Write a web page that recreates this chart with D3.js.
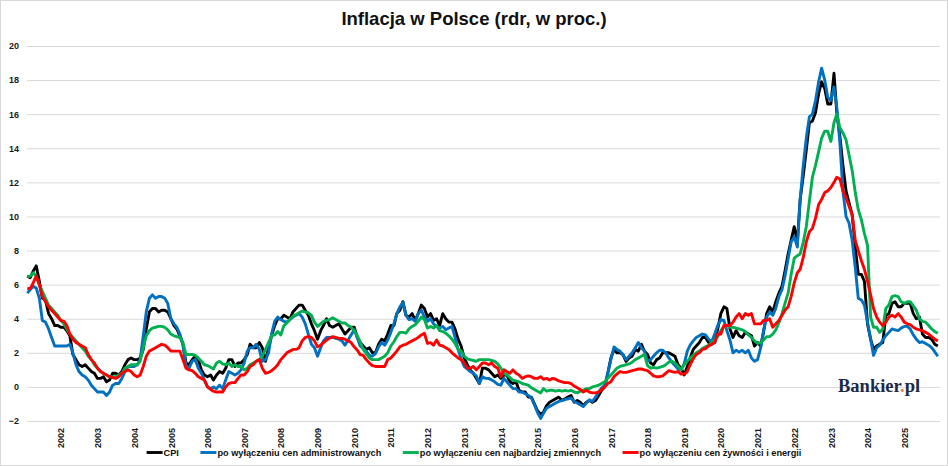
<!DOCTYPE html>
<html>
<head>
<meta charset="utf-8">
<script src="https://cdn.jsdelivr.net/npm/d3@7"></script>
<style>
  body { margin: 0; background: #fff; }
  svg { display: block; }
</style>
</head>
<body>
<svg width="948" height="466"></svg>
<script>
// Inflacja w Polsce, dane miesięczne od lutego 2001 do grudnia 2025 (rdr, %)

var yearLabels = [2002, 2003, 2004, 2005, 2006, 2007, 2008, 2009, 2010, 2011, 2012, 2013,
                  2014, 2015, 2016, 2017, 2018, 2019, 2020, 2021, 2022, 2023, 2024, 2025];
var yTicks = [-2, 0, 2, 4, 6, 8, 10, 12, 14, 16, 18, 20];
var seriesNames = ["CPI", "po wyłączeniu cen administrowanych",
                   "po wyłączeniu cen najbardziej zmiennych", "po wyłączeniu cen żywności i energii"];

var cpi = [
  6.5, 6.4, 6.8, 7.1, 6.2, 5.2, 5.1, 4.3, 4.0, 3.6, 3.6,           // 2001 (lut-gru)
  3.5, 3.5, 3.3, 3.0, 1.9, 1.6, 1.3, 1.2, 1.3, 1.1, 0.9, 0.8,      // 2002
  0.5, 0.5, 0.6, 0.3, 0.4, 0.8, 0.8, 0.7, 0.9, 1.3, 1.6, 1.7,      // 2003
  1.6, 1.6, 1.7, 2.2, 3.4, 4.4, 4.6, 4.6, 4.4, 4.5, 4.5, 4.4,      // 2004
  4.0, 3.6, 3.4, 3.0, 2.5, 1.4, 1.3, 1.6, 1.8, 1.6, 1.0, 0.7,      // 2005
  0.6, 0.7, 0.4, 0.7, 0.9, 0.8, 1.1, 1.6, 1.6, 1.2, 1.4, 1.4,      // 2006
  1.6, 1.9, 2.5, 2.3, 2.3, 2.6, 2.3, 1.5, 2.3, 3.0, 3.6, 4.0,      // 2007
  4.0, 4.2, 4.1, 4.0, 4.4, 4.6, 4.8, 4.8, 4.5, 4.2, 3.7, 3.3,      // 2008
  2.8, 3.3, 3.6, 4.0, 3.6, 3.5, 3.6, 3.7, 3.4, 3.1, 3.3, 3.5,      // 2009
  3.5, 2.9, 2.6, 2.4, 2.2, 2.3, 2.0, 2.0, 2.5, 2.8, 2.7, 3.1,      // 2010
  3.6, 3.6, 4.3, 4.5, 5.0, 4.2, 4.1, 4.3, 3.9, 4.3, 4.8, 4.6,      // 2011
  4.1, 4.3, 3.9, 4.0, 3.6, 4.3, 4.0, 3.8, 3.8, 3.4, 2.8, 2.4,      // 2012
  1.7, 1.3, 1.0, 0.8, 0.5, 0.2, 1.1, 1.1, 1.0, 0.8, 0.6, 0.7,      // 2013
  0.5, 0.7, 0.7, 0.3, 0.2, 0.3, -0.2, -0.3, -0.3, -0.6, -0.6, -1.0, // 2014
  -1.4, -1.6, -1.5, -1.1, -0.9, -0.8, -0.7, -0.6, -0.8, -0.7, -0.6, -0.5, // 2015
  -0.9, -0.8, -0.9, -1.1, -0.9, -0.8, -0.9, -0.8, -0.5, -0.2, 0.0, 0.8,   // 2016
  1.7, 2.2, 2.0, 2.0, 1.9, 1.5, 1.7, 1.8, 2.2, 2.1, 2.5, 2.1,      // 2017
  1.9, 1.4, 1.3, 1.6, 1.7, 2.0, 2.0, 2.0, 1.9, 1.8, 1.3, 1.1,      // 2018
  0.7, 1.2, 1.7, 2.2, 2.4, 2.6, 2.9, 2.9, 2.6, 2.5, 2.6, 3.4,      // 2019
  4.3, 4.7, 4.6, 3.4, 2.9, 3.3, 3.0, 2.9, 3.2, 3.1, 3.0, 2.4,      // 2020
  2.6, 2.4, 3.2, 4.3, 4.7, 4.4, 5.0, 5.5, 5.9, 6.8, 7.8, 8.6,      // 2021
  9.4, 8.5, 11.0, 12.4, 13.9, 15.5, 15.6, 16.1, 17.2, 17.9, 17.5, 16.6, // 2022
  16.6, 18.4, 16.1, 14.7, 13.0, 11.5, 10.8, 10.1, 8.2, 6.6, 6.6, 6.2,   // 2023
  3.7, 2.8, 2.2, 2.4, 2.5, 2.6, 4.2, 4.3, 4.9, 5.0, 4.7, 4.7,      // 2024
  4.9, 4.9, 4.9, 4.3, 4.0, 4.1, 3.1, 2.9, 2.9, 2.8, 2.5, 2.4       // 2025
];

var exAdmin = [
  5.5, 5.7, 5.9, 5.8, 5.2, 3.9, 3.8, 3.4, 2.9, 2.4, 2.4,           // 2001
  2.4, 2.4, 2.4, 2.5, 2.0, 1.3, 0.9, 0.7, 0.6, 0.4, 0.1, -0.1,     // 2002
  -0.3, -0.3, -0.3, -0.5, -0.3, 0.1, 0.2, 0.2, 0.5, 0.9, 1.2, 1.2, // 2003
  1.2, 1.3, 1.6, 3.0, 4.4, 5.2, 5.4, 5.2, 5.3, 5.3, 5.2, 4.9,      // 2004
  4.0, 3.7, 3.5, 3.1, 2.5, 1.2, 1.1, 1.5, 1.6, 1.1, 0.8, 0.4,      // 2005
  0.0, -0.1, 0.0, -0.1, 0.1, -0.1, 0.4, 0.9, 0.8, 0.7, 0.8, 1.0,   // 2006
  1.4, 2.1, 2.3, 2.3, 2.5, 2.2, 1.5, 1.6, 2.0, 3.1, 3.85, 4.1,     // 2007
  3.95, 3.85, 3.8, 3.95, 4.1, 4.2, 4.3, 4.1, 3.7, 3.1, 2.5, 2.3,   // 2008
  1.8, 2.3, 2.7, 2.9, 2.9, 2.9, 2.85, 2.8, 2.7, 2.45, 2.75, 3.05,  // 2009
  3.35, 2.9, 2.4, 2.25, 2.1, 1.85, 1.8, 1.95, 2.35, 2.6, 2.45, 2.75, // 2010
  3.2, 3.7, 4.3, 4.7, 4.95, 4.2, 3.95, 4.0, 3.85, 4.3, 4.5, 4.1,   // 2011
  3.85, 4.0, 3.7, 3.55, 3.45, 3.55, 3.35, 3.45, 3.55, 2.9, 2.2, 1.65, // 2012
  1.2, 1.05, 0.9, 0.8, 0.65, 0.2, 0.6, 0.5, 0.5, 0.4, 0.3, 0.15,   // 2013
  0.1, 0.5, 0.3, 0.1, -0.1, -0.1, -0.3, -0.3, -0.4, -0.5, -0.65, -1.05, // 2014
  -1.5, -1.85, -1.55, -1.25, -1.15, -1.05, -0.95, -0.85, -0.8, -0.75, -0.7, -0.65, // 2015
  -0.85, -0.95, -1.05, -1.15, -0.95, -0.75, -0.85, -0.6, -0.3, -0.05, 0.1, 0.8, // 2016
  1.6, 2.35, 2.2, 2.1, 1.9, 1.6, 1.8, 2.0, 2.3, 2.6, 2.3, 2.1,     // 2017
  1.5, 1.6, 1.8, 2.0, 2.15, 2.15, 2.0, 1.7, 1.45, 1.25, 1.05, 1.0, // 2018
  1.35, 2.1, 2.45, 2.7, 2.9, 3.0, 3.1, 3.05, 2.8, 2.65, 3.1, 3.6,  // 2019
  3.95, 3.9, 3.3, 2.75, 2.0, 2.15, 2.05, 2.15, 2.0, 2.15, 1.7, 1.5, // 2020
  1.6, 2.3, 3.3, 4.1, 4.4, 4.2, 4.6, 5.3, 5.7, 6.5, 7.5, 8.5,      // 2021
  8.8, 8.2, 11.0, 13.0, 14.6, 15.85, 16.0, 16.8, 17.9, 18.7, 18.0, 17.0, // 2022
  16.8, 17.6, 16.4, 14.3, 11.5, 10.0, 9.6, 8.6, 7.0, 5.2, 5.1, 4.8, // 2023
  3.8, 2.8, 1.85, 2.3, 2.45, 2.75, 3.0, 3.2, 3.4, 3.35, 3.3, 3.45, // 2024
  3.55, 3.55, 3.4, 3.05, 2.8, 2.6, 2.65, 2.55, 2.45, 2.3, 2.05, 1.8 // 2025
];

var exVolatile = [
  6.45, 6.5, 6.7, 6.5, 6.0, 5.6, 5.2, 4.8, 4.6, 4.4, 4.2,          // 2001
  3.9, 3.7, 3.4, 3.1, 2.9, 2.7, 2.5, 2.3, 2.1, 1.8, 1.6, 1.3,      // 2002
  1.1, 0.9, 0.8, 0.7, 0.6, 0.6, 0.6, 0.7, 0.8, 1.1, 1.2, 1.3,      // 2003
  1.3, 1.3, 1.5, 2.3, 3.0, 3.3, 3.45, 3.5, 3.55, 3.55, 3.5, 3.35,  // 2004
  3.1, 3.0, 2.95, 2.9, 2.6, 1.9, 1.9, 1.9, 1.85, 1.7, 1.5, 1.3,    // 2005
  1.25, 1.15, 1.05, 1.4, 1.5, 1.35, 1.3, 1.4, 1.2, 1.3, 1.2, 1.2,  // 2006
  1.0, 1.1, 1.3, 1.4, 1.5, 1.6, 1.8, 2.2, 2.6, 3.0, 3.05, 3.25,    // 2007
  3.05, 3.6, 3.75, 3.95, 4.15, 4.25, 4.35, 4.45, 4.4, 4.35, 4.2, 3.8, // 2008
  3.55, 3.7, 3.85, 3.9, 3.95, 4.05, 3.95, 3.85, 3.75, 3.75, 3.6, 3.5, // 2009
  3.3, 3.0, 2.65, 2.2, 1.95, 1.7, 1.6, 1.6, 1.6, 1.7, 1.8, 2.0,    // 2010
  2.4, 2.65, 2.95, 3.2, 3.2, 3.15, 3.4, 3.55, 3.65, 3.85, 4.1, 3.95, // 2011
  3.45, 3.55, 3.45, 3.6, 3.3, 3.25, 3.15, 3.0, 2.8, 2.55, 2.2, 2.1, // 2012
  1.8, 1.65, 1.6, 1.55, 1.5, 1.6, 1.6, 1.6, 1.6, 1.55, 1.5, 1.35,  // 2013
  1.1, 0.8, 0.7, 0.55, 0.4, 0.35, 0.3, 0.2, 0.15, 0.1, -0.05, -0.15, // 2014
  -0.25, -0.35, -0.1, -0.25, -0.2, -0.2, -0.25, -0.2, -0.25, -0.2, -0.25, -0.2, // 2015
  -0.3, -0.35, -0.25, -0.2, -0.1, -0.1, 0.0, 0.05, 0.1, 0.2, 0.3, 0.5, // 2016
  0.7, 0.9, 1.1, 1.2, 1.25, 1.3, 1.35, 1.45, 1.6, 1.7, 1.8, 1.9,   // 2017
  1.25, 1.1, 1.15, 1.1, 1.15, 1.2, 1.3, 1.45, 1.5, 1.4, 1.2, 1.0,  // 2018
  1.3, 1.5, 1.7, 1.85, 2.0, 2.1, 2.25, 2.35, 2.45, 2.6, 2.75, 2.95, // 2019
  3.3, 3.55, 3.6, 3.5, 3.5, 3.45, 3.4, 3.35, 3.25, 3.05, 2.9, 2.7, // 2020
  2.55, 2.6, 2.75, 2.95, 2.95, 3.1, 3.35, 3.75, 4.3, 4.9, 5.5, 6.6, // 2021
  7.55, 7.7, 7.8, 8.5, 9.4, 10.9, 12.3, 13.0, 13.8, 14.6, 15.0, 15.0, // 2022
  14.4, 15.5, 16.0, 15.2, 14.9, 14.5, 13.6, 12.7, 11.4, 10.4, 9.8, 9.0, // 2023
  8.3, 4.1, 3.5, 3.5, 3.2, 3.4, 4.6, 4.8, 5.3, 5.35, 5.3, 5.0,     // 2024
  4.9, 5.0, 5.0, 4.75, 4.5, 4.0, 3.85, 3.8, 3.6, 3.4, 3.25, 3.15   // 2025
];

var exFoodEnergy = [
  5.8, 5.75, 6.1, 6.5, 6.0, 5.3, 5.0, 4.7, 4.5, 4.3, 4.1,          // 2001
  3.9, 3.85, 3.6, 3.1, 2.8, 2.6, 2.5, 2.4, 2.3, 1.9, 1.6, 1.4,     // 2002
  1.1, 0.9, 0.8, 0.7, 0.6, 0.55, 0.5, 0.6, 0.8, 0.9, 1.0, 0.9,     // 2003
  0.7, 0.6, 0.7, 1.2, 1.8, 2.1, 2.2, 2.3, 2.4, 2.5, 2.45, 2.3,     // 2004
  2.1, 2.1, 2.1, 2.1, 1.6, 1.1, 1.0, 0.95, 0.8, 0.6, 0.5, 0.4,     // 2005
  0.0, -0.15, -0.25, -0.3, -0.3, -0.3, 0.0, 0.2, 0.25, 0.25, 0.5, 0.7, // 2006
  0.7, 0.9, 1.2, 1.3, 1.5, 1.6, 1.1, 0.8, 0.85, 0.95, 1.1, 1.3,    // 2007
  1.6, 1.8, 2.0, 2.1, 2.2, 2.2, 2.3, 2.7, 2.9, 2.95, 2.9, 2.7,     // 2008
  2.35, 2.45, 2.6, 2.75, 2.85, 2.95, 2.9, 2.85, 2.85, 2.8, 2.7, 2.6, // 2009
  2.35, 2.15, 1.9, 1.85, 1.6, 1.4, 1.25, 1.2, 1.2, 1.2, 1.2, 1.6,  // 2010
  1.7, 1.9, 2.1, 2.35, 2.45, 2.5, 2.6, 2.7, 2.8, 2.9, 3.05, 3.15,  // 2011
  2.55, 2.6, 2.45, 2.75, 2.45, 2.4, 2.3, 2.2, 2.0, 1.85, 1.7, 1.6, // 2012
  1.4, 1.1, 1.1, 1.2, 1.0, 1.2, 1.4, 1.4, 1.3, 1.4, 1.2, 1.1,      // 2013
  0.6, 1.0, 0.9, 0.8, 1.0, 0.8, 0.7, 0.5, 0.6, 0.65, 0.6, 0.5,     // 2014
  0.5, 0.6, 0.45, 0.5, 0.4, 0.5, 0.45, 0.35, 0.3, 0.25, 0.25, 0.2, // 2015
  0.05, -0.05, -0.15, -0.3, -0.2, -0.3, -0.35, -0.35, -0.3, -0.15, 0.0, 0.2, // 2016
  0.3, 0.6, 0.75, 0.9, 0.85, 0.85, 0.9, 0.95, 1.0, 1.05, 1.05, 1.0, // 2017
  0.95, 0.8, 0.65, 0.6, 0.6, 0.65, 0.8, 0.95, 0.9, 0.85, 0.9, 0.75, // 2018
  0.75, 0.9, 1.3, 1.65, 1.9, 2.0, 2.2, 2.25, 2.4, 2.5, 2.6, 3.1,   // 2019
  3.1, 3.6, 3.6, 3.6, 3.8, 4.1, 4.3, 4.0, 4.3, 4.2, 4.3, 3.7,      // 2020
  3.7, 3.7, 3.9, 3.9, 4.0, 3.5, 3.7, 3.9, 4.2, 4.5, 4.7, 5.3,      // 2021
  6.1, 6.7, 6.9, 7.6, 8.5, 9.1, 9.3, 9.9, 10.7, 11.0, 11.4, 11.5,  // 2022
  11.7, 12.0, 12.3, 12.2, 11.5, 11.1, 10.6, 10.1, 8.6, 8.0, 7.4, 6.9, // 2023
  6.2, 5.4, 4.6, 4.1, 3.8, 3.6, 3.8, 4.1, 4.2, 4.1, 4.3, 4.1,      // 2024
  3.8, 3.7, 3.65, 3.5, 3.4, 3.35, 3.3, 3.2, 3.1, 2.95, 2.8, 2.7    // 2025
];

// The svg
var svg = d3.select("svg"),
    width = +svg.attr("width"),
    height = +svg.attr("height");

var fontSans = "'Liberation Sans', Arial, sans-serif";

// miesiące: luty 2001 - grudzień 2025
var months = d3.timeMonth.range(new Date(2001, 1, 1), new Date(2026, 0, 1));

var plotLeft = 27, plotRight = 940;

var x = d3.scaleTime()
    .domain([months[0], months[months.length - 1]])
    .range([27.3, 937.8]);

var y = d3.scaleLinear()
    .domain([-2, 20])
    .range([421, 46]);

// ramka
svg.append("rect")
    .attr("x", 0.5).attr("y", 0.5)
    .attr("width", width - 1).attr("height", height - 1)
    .attr("fill", "#fff")
    .attr("stroke", "#d9d9d9");

// tytuł
svg.append("text")
    .attr("x", 474).attr("y", 25)
    .attr("text-anchor", "middle")
    .style("font-family", fontSans)
    .style("font-size", "18.5px")
    .style("font-weight", "bold")
    .attr("fill", "#111")
    .text("Inflacja w Polsce (rdr, w proc.)");

// oś Y z siatką
svg.append("g")
    .attr("transform", "translate(" + plotLeft + ",0)")
    .call(d3.axisLeft(y).tickValues(yTicks).tickSize(-(plotRight - plotLeft)).tickPadding(8))
    .call(function(g) {
      g.select(".domain").remove();
      g.selectAll(".tick line").attr("stroke", "#d9d9d9");
      g.selectAll(".tick text")
        .style("font-family", fontSans)
        .style("font-size", "9px")
        .style("font-weight", "bold")
        .attr("fill", "#1a1a1a");
    });

// oś X - lata pionowo
svg.append("g")
    .attr("transform", "translate(0,421)")
    .call(d3.axisBottom(x)
      .tickValues(yearLabels.map(function(yr){ return new Date(yr, 0, 1) }))
      .tickFormat(d3.timeFormat("%Y"))
      .tickSize(0))
    .call(function(g) {
      g.select(".domain").remove();
      g.selectAll(".tick text")
        .attr("transform", "rotate(-90)")
        .attr("x", -7).attr("y", 0).attr("dy", "0.35em")
        .style("text-anchor", "end")
        .style("font-family", fontSans)
        .style("font-size", "9px")
        .style("font-weight", "bold")
        .attr("fill", "#1a1a1a");
    });

// logo
var logo = svg.append("text")
    .attr("x", 838).attr("y", 392)
    .style("font-family", "'Liberation Serif', 'Times New Roman', serif")
    .style("font-size", "18.5px")
    .style("font-weight", "bold")
    .attr("fill", "#1b2a4a");
logo.append("tspan").text("Bankier");
logo.append("tspan").attr("fill", "#ee7d22").text(".");
logo.append("tspan").text("pl");

// serie
var series = [
  {name: seriesNames[0], values: cpi,          color: "#000000"},
  {name: seriesNames[1], values: exAdmin,      color: "#0070c0"},
  {name: seriesNames[2], values: exVolatile,   color: "#00b050"},
  {name: seriesNames[3], values: exFoodEnergy, color: "#ff0000"}
];

var line = d3.line()
    .x(function(d, i){ return x(months[i]) })
    .y(function(d){ return y(d) });

svg.append("g")
  .selectAll("path")
  .data(series)
  .enter()
  .append("path")
    .attr("d", function(d){ return line(d.values) })
    .attr("fill", "none")
    .attr("stroke", function(d){ return d.color })
    .attr("stroke-width", 2.9)
    .attr("stroke-linejoin", "round");

// legenda
var legend = svg.append("g");
var gap = 21.5;
var cursor = 0;
series.forEach(function(s, i) {
  var item = legend.append("g").attr("transform", "translate(" + cursor + ",0)");
  item.append("line")
    .attr("x1", 0).attr("x2", 16).attr("y1", 0).attr("y2", 0)
    .attr("stroke", s.color).attr("stroke-width", 2.9);
  var t = item.append("text")
    .attr("x", 17).attr("y", 3.4)
    .style("font-family", fontSans)
    .style("font-size", "9.2px")
    .style("font-weight", "bold")
    .attr("fill", "#111")
    .text(s.name);
  cursor += 17 + t.node().getComputedTextLength() + gap;
});
var legendWidth = cursor - gap;
legend.attr("transform", "translate(" + (474 - legendWidth / 2) + ",452.5)");
</script>
</body>
</html>
